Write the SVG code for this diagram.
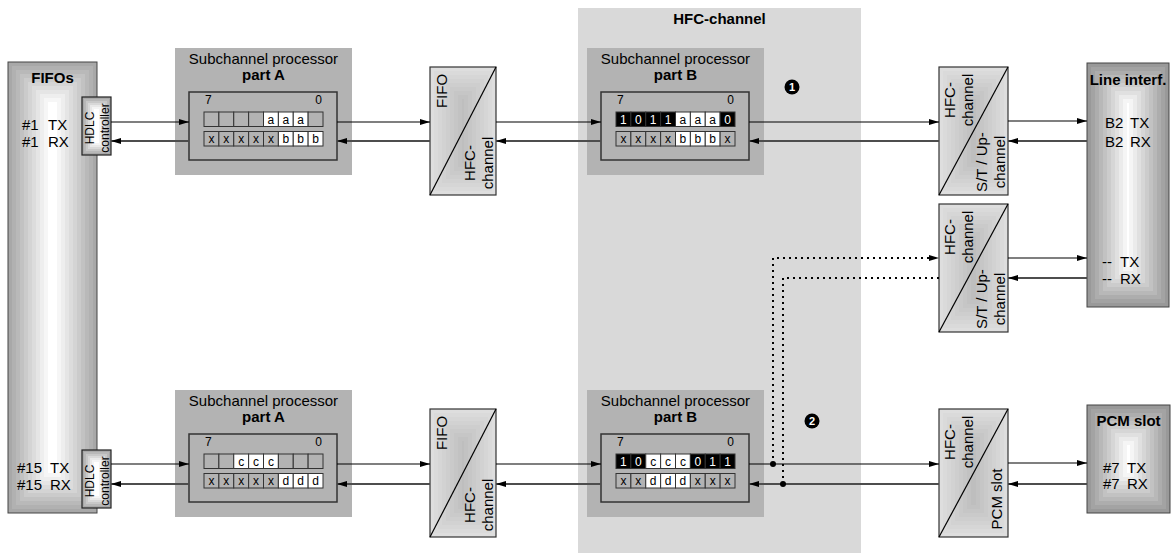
<svg xmlns="http://www.w3.org/2000/svg" width="1173" height="553" viewBox="0 0 1173 553">
<style>
text{font-family:"Liberation Sans",Arial,sans-serif;fill:#000}
.t15{font-size:15px}
.b15{font-size:15px;font-weight:bold}
.t12{font-size:12px}
.bit{font-size:12px;text-anchor:middle}
.bw{fill:#fff}
.mid{text-anchor:middle}
.end{text-anchor:end}
.gbox{fill:#b3b3b3}
.reg{fill:none;stroke:#333;stroke-width:1.5}
.cg{fill:#b3b3b3;stroke:#333;stroke-width:1}
.cw{fill:#fff;stroke:#333;stroke-width:1}
.cb{fill:#000;stroke:#333;stroke-width:1}
.edge{fill:none;stroke:#444;stroke-width:1}
.tx{fill:none;stroke:#000;stroke-width:1.2}
.rx{fill:none;stroke:#4d4d4d;stroke-width:1.8}
.dot{fill:none;stroke:#000;stroke-width:2;stroke-dasharray:2 4}
.diag{stroke:#000;stroke-width:1.2}
.num{font-size:11px;font-weight:bold;fill:#fff;text-anchor:middle}
</style>
<defs>
<marker id="ah" viewBox="0 0 10 6" refX="10" refY="3" markerWidth="10" markerHeight="6" markerUnits="userSpaceOnUse" orient="auto"><path d="M0,0 L10,3 L0,6 z" fill="#000"/></marker>
<g id="conv69">
<rect x="0" y="0" width="69" height="128" fill="#dedede"/>
<rect x="4" y="4" width="61" height="120" fill="#dadada"/>
<rect x="8" y="8" width="53" height="112" fill="#d6d6d6"/>
<rect x="12" y="12" width="45" height="104" fill="#d2d2d2"/>
<rect x="16" y="16" width="37" height="96" fill="#cecece"/>
<rect x="20" y="20" width="29" height="88" fill="#cacaca"/>
<rect x="24" y="24" width="21" height="80" fill="#c6c6c6"/>
<rect x="28" y="28" width="13" height="72" fill="#c2c2c2"/>
<rect x="32" y="32" width="5" height="64" fill="#bebebe"/>
<rect x="0" y="0" width="69" height="128" fill="none" stroke="#333" stroke-width="1.2"/>
<line class="diag" x1="0" y1="128" x2="69" y2="0"/>
</g>
<g id="conv66">
<rect x="0" y="0" width="66" height="128" fill="#dedede"/>
<rect x="4" y="4" width="58" height="120" fill="#dadada"/>
<rect x="8" y="8" width="50" height="112" fill="#d6d6d6"/>
<rect x="12" y="12" width="42" height="104" fill="#d2d2d2"/>
<rect x="16" y="16" width="34" height="96" fill="#cecece"/>
<rect x="20" y="20" width="26" height="88" fill="#cacaca"/>
<rect x="24" y="24" width="18" height="80" fill="#c6c6c6"/>
<rect x="28" y="28" width="10" height="72" fill="#c2c2c2"/>
<rect x="32" y="32" width="2" height="64" fill="#bebebe"/>
<rect x="0" y="0" width="66" height="128" fill="none" stroke="#333" stroke-width="1.2"/>
<line class="diag" x1="0" y1="128" x2="66" y2="0"/>
</g>
<g id="hdlc">
<rect x="0" y="0" width="29" height="58" fill="#a8a8a8"/>
<rect x="2" y="2" width="25" height="54" fill="#b8b8b8"/>
<rect x="4" y="4" width="21" height="50" fill="#c8c8c8"/>
<rect x="6" y="6" width="17" height="46" fill="#d8d8d8"/>
<rect x="8" y="8" width="13" height="42" fill="#e8e8e8"/>
<rect x="10" y="10" width="9" height="38" fill="#f4f4f4"/>
<rect x="12" y="12" width="5" height="34" fill="#ffffff"/>
<rect x="0" y="0" width="29" height="58" fill="none" stroke="#222" stroke-width="1.2"/>
<text class="t12 mid" transform="translate(12,31) rotate(-90)">HDLC</text>
<text class="t12 mid" transform="translate(27,31) rotate(-90)">controller</text>
</g>
</defs>

<g id="hfc-channel">
<rect x="578" y="8" width="283" height="545" fill="#d9d9d9"/>
<text class="b15 mid" x="719.5" y="24">HFC-channel</text>
</g>

<g id="fifos">
<rect x="8" y="62" width="89" height="451" fill="#a8a8a8"/>
<rect x="12" y="66" width="81" height="443" fill="#b1b1b1"/>
<rect x="16" y="70" width="73" height="435" fill="#b9b9b9"/>
<rect x="20" y="74" width="65" height="427" fill="#c2c2c2"/>
<rect x="24" y="78" width="57" height="419" fill="#cbcbcb"/>
<rect x="28" y="82" width="49" height="411" fill="#d4d4d4"/>
<rect x="32" y="86" width="41" height="403" fill="#dcdcdc"/>
<rect x="36" y="90" width="33" height="395" fill="#e5e5e5"/>
<rect x="40" y="94" width="25" height="387" fill="#eeeeee"/>
<rect x="44" y="98" width="17" height="379" fill="#f6f6f6"/>
<rect x="48" y="102" width="9" height="371" fill="#ffffff"/>
<rect class="edge" x="8" y="62" width="89" height="451"/>
<text class="b15 mid" x="52.5" y="83">FIFOs</text>
<text class="t15" x="22" y="130">#1<tspan x="48">TX</tspan></text>
<text class="t15" x="22" y="147">#1<tspan x="48">RX</tspan></text>
<text class="t15" x="17" y="473">#15<tspan x="50">TX</tspan></text>
<text class="t15" x="17" y="490">#15<tspan x="50">RX</tspan></text>
</g>

<g id="hdlc1"><use href="#hdlc" x="82" y="97"/></g>
<g id="hdlc15"><use href="#hdlc" x="82" y="450"/></g>

<g id="subA1">
<rect class="gbox" x="175" y="48" width="177" height="127"/>
<text class="t15 mid" x="263.5" y="64">Subchannel processor</text>
<text class="b15 mid" x="263.5" y="80">part A</text>
<rect class="reg" x="189" y="92" width="148" height="68"/>
<text class="t12" x="205" y="104">7</text>
<text class="t12 end" x="322" y="104">0</text>
<rect class="cg" x="204" y="112" width="14.875" height="14.5"/>
<rect class="cg" x="218.875" y="112" width="14.875" height="14.5"/>
<rect class="cg" x="233.75" y="112" width="14.875" height="14.5"/>
<rect class="cg" x="248.625" y="112" width="14.875" height="14.5"/>
<rect class="cw" x="263.5" y="112" width="14.875" height="14.5"/>
<rect class="cw" x="278.375" y="112" width="14.875" height="14.5"/>
<rect class="cw" x="293.25" y="112" width="14.875" height="14.5"/>
<rect class="cg" x="308.125" y="112" width="14.875" height="14.5"/>
<text class="bit" x="270.94" y="123.5">a</text>
<text class="bit" x="285.81" y="123.5">a</text>
<text class="bit" x="300.69" y="123.5">a</text>
<rect class="cg" x="204" y="131.5" width="14.875" height="14.5"/>
<rect class="cg" x="218.875" y="131.5" width="14.875" height="14.5"/>
<rect class="cg" x="233.75" y="131.5" width="14.875" height="14.5"/>
<rect class="cg" x="248.625" y="131.5" width="14.875" height="14.5"/>
<rect class="cg" x="263.5" y="131.5" width="14.875" height="14.5"/>
<rect class="cw" x="278.375" y="131.5" width="14.875" height="14.5"/>
<rect class="cw" x="293.25" y="131.5" width="14.875" height="14.5"/>
<rect class="cw" x="308.125" y="131.5" width="14.875" height="14.5"/>
<text class="bit" x="211.44" y="143">x</text>
<text class="bit" x="226.31" y="143">x</text>
<text class="bit" x="241.19" y="143">x</text>
<text class="bit" x="256.06" y="143">x</text>
<text class="bit" x="270.94" y="143">x</text>
<text class="bit" x="285.81" y="143">b</text>
<text class="bit" x="300.69" y="143">b</text>
<text class="bit" x="315.56" y="143">b</text>
</g>

<g id="subA15">
<rect class="gbox" x="175" y="390" width="177" height="127"/>
<text class="t15 mid" x="263.5" y="406">Subchannel processor</text>
<text class="b15 mid" x="263.5" y="422">part A</text>
<rect class="reg" x="189" y="434" width="148" height="68"/>
<text class="t12" x="205" y="446">7</text>
<text class="t12 end" x="322" y="446">0</text>
<rect class="cg" x="204" y="454" width="14.875" height="14.5"/>
<rect class="cg" x="218.875" y="454" width="14.875" height="14.5"/>
<rect class="cw" x="233.75" y="454" width="14.875" height="14.5"/>
<rect class="cw" x="248.625" y="454" width="14.875" height="14.5"/>
<rect class="cw" x="263.5" y="454" width="14.875" height="14.5"/>
<rect class="cg" x="278.375" y="454" width="14.875" height="14.5"/>
<rect class="cg" x="293.25" y="454" width="14.875" height="14.5"/>
<rect class="cg" x="308.125" y="454" width="14.875" height="14.5"/>
<text class="bit" x="241.19" y="465.5">c</text>
<text class="bit" x="256.06" y="465.5">c</text>
<text class="bit" x="270.94" y="465.5">c</text>
<rect class="cg" x="204" y="473.5" width="14.875" height="14.5"/>
<rect class="cg" x="218.875" y="473.5" width="14.875" height="14.5"/>
<rect class="cg" x="233.75" y="473.5" width="14.875" height="14.5"/>
<rect class="cg" x="248.625" y="473.5" width="14.875" height="14.5"/>
<rect class="cg" x="263.5" y="473.5" width="14.875" height="14.5"/>
<rect class="cw" x="278.375" y="473.5" width="14.875" height="14.5"/>
<rect class="cw" x="293.25" y="473.5" width="14.875" height="14.5"/>
<rect class="cw" x="308.125" y="473.5" width="14.875" height="14.5"/>
<text class="bit" x="211.44" y="485">x</text>
<text class="bit" x="226.31" y="485">x</text>
<text class="bit" x="241.19" y="485">x</text>
<text class="bit" x="256.06" y="485">x</text>
<text class="bit" x="270.94" y="485">x</text>
<text class="bit" x="285.81" y="485">d</text>
<text class="bit" x="300.69" y="485">d</text>
<text class="bit" x="315.56" y="485">d</text>
</g>

<g id="fifo-conv1">
<use href="#conv66" x="430" y="67"/>
<text class="t15 mid" transform="translate(447,91) rotate(-90)">FIFO</text>
<text class="t15 mid" transform="translate(475,163) rotate(-90)">HFC-</text>
<text class="t15 mid" transform="translate(493,163) rotate(-90)">channel</text>
</g>

<g id="fifo-conv15">
<use href="#conv66" x="430" y="409"/>
<text class="t15 mid" transform="translate(447,433) rotate(-90)">FIFO</text>
<text class="t15 mid" transform="translate(475,505) rotate(-90)">HFC-</text>
<text class="t15 mid" transform="translate(493,505) rotate(-90)">channel</text>
</g>

<g id="subB1">
<rect class="gbox" x="587" y="48" width="177" height="127"/>
<text class="t15 mid" x="675.5" y="64">Subchannel processor</text>
<text class="b15 mid" x="675.5" y="80">part B</text>
<rect class="reg" x="601" y="92" width="148" height="68"/>
<text class="t12" x="617" y="104">7</text>
<text class="t12 end" x="734" y="104">0</text>
<rect class="cb" x="616" y="112" width="14.875" height="14.5"/>
<rect class="cb" x="630.875" y="112" width="14.875" height="14.5"/>
<rect class="cb" x="645.75" y="112" width="14.875" height="14.5"/>
<rect class="cb" x="660.625" y="112" width="14.875" height="14.5"/>
<rect class="cw" x="675.5" y="112" width="14.875" height="14.5"/>
<rect class="cw" x="690.375" y="112" width="14.875" height="14.5"/>
<rect class="cw" x="705.25" y="112" width="14.875" height="14.5"/>
<rect class="cb" x="720.125" y="112" width="14.875" height="14.5"/>
<text class="bit bw" x="623.44" y="123.5">1</text>
<text class="bit bw" x="638.31" y="123.5">0</text>
<text class="bit bw" x="653.19" y="123.5">1</text>
<text class="bit bw" x="668.06" y="123.5">1</text>
<text class="bit" x="682.94" y="123.5">a</text>
<text class="bit" x="697.81" y="123.5">a</text>
<text class="bit" x="712.69" y="123.5">a</text>
<text class="bit bw" x="727.56" y="123.5">0</text>
<rect class="cg" x="616" y="131.5" width="14.875" height="14.5"/>
<rect class="cg" x="630.875" y="131.5" width="14.875" height="14.5"/>
<rect class="cg" x="645.75" y="131.5" width="14.875" height="14.5"/>
<rect class="cg" x="660.625" y="131.5" width="14.875" height="14.5"/>
<rect class="cw" x="675.5" y="131.5" width="14.875" height="14.5"/>
<rect class="cw" x="690.375" y="131.5" width="14.875" height="14.5"/>
<rect class="cw" x="705.25" y="131.5" width="14.875" height="14.5"/>
<rect class="cg" x="720.125" y="131.5" width="14.875" height="14.5"/>
<text class="bit" x="623.44" y="143">x</text>
<text class="bit" x="638.31" y="143">x</text>
<text class="bit" x="653.19" y="143">x</text>
<text class="bit" x="668.06" y="143">x</text>
<text class="bit" x="682.94" y="143">b</text>
<text class="bit" x="697.81" y="143">b</text>
<text class="bit" x="712.69" y="143">b</text>
<text class="bit" x="727.56" y="143">x</text>
</g>

<g id="subB15">
<rect class="gbox" x="587" y="390" width="177" height="127"/>
<text class="t15 mid" x="675.5" y="406">Subchannel processor</text>
<text class="b15 mid" x="675.5" y="422">part B</text>
<rect class="reg" x="601" y="434" width="148" height="68"/>
<text class="t12" x="617" y="446">7</text>
<text class="t12 end" x="734" y="446">0</text>
<rect class="cb" x="616" y="454" width="14.875" height="14.5"/>
<rect class="cb" x="630.875" y="454" width="14.875" height="14.5"/>
<rect class="cw" x="645.75" y="454" width="14.875" height="14.5"/>
<rect class="cw" x="660.625" y="454" width="14.875" height="14.5"/>
<rect class="cw" x="675.5" y="454" width="14.875" height="14.5"/>
<rect class="cb" x="690.375" y="454" width="14.875" height="14.5"/>
<rect class="cb" x="705.25" y="454" width="14.875" height="14.5"/>
<rect class="cb" x="720.125" y="454" width="14.875" height="14.5"/>
<text class="bit bw" x="623.44" y="465.5">1</text>
<text class="bit bw" x="638.31" y="465.5">0</text>
<text class="bit" x="653.19" y="465.5">c</text>
<text class="bit" x="668.06" y="465.5">c</text>
<text class="bit" x="682.94" y="465.5">c</text>
<text class="bit bw" x="697.81" y="465.5">0</text>
<text class="bit bw" x="712.69" y="465.5">1</text>
<text class="bit bw" x="727.56" y="465.5">1</text>
<rect class="cg" x="616" y="473.5" width="14.875" height="14.5"/>
<rect class="cg" x="630.875" y="473.5" width="14.875" height="14.5"/>
<rect class="cw" x="645.75" y="473.5" width="14.875" height="14.5"/>
<rect class="cw" x="660.625" y="473.5" width="14.875" height="14.5"/>
<rect class="cw" x="675.5" y="473.5" width="14.875" height="14.5"/>
<rect class="cg" x="690.375" y="473.5" width="14.875" height="14.5"/>
<rect class="cg" x="705.25" y="473.5" width="14.875" height="14.5"/>
<rect class="cg" x="720.125" y="473.5" width="14.875" height="14.5"/>
<text class="bit" x="623.44" y="485">x</text>
<text class="bit" x="638.31" y="485">x</text>
<text class="bit" x="653.19" y="485">d</text>
<text class="bit" x="668.06" y="485">d</text>
<text class="bit" x="682.94" y="485">d</text>
<text class="bit" x="697.81" y="485">x</text>
<text class="bit" x="712.69" y="485">x</text>
<text class="bit" x="727.56" y="485">x</text>
</g>

<g id="marker1">
<circle cx="792" cy="87" r="7.5" fill="#000"/>
<text class="num" x="792" y="91">1</text>
</g>
<g id="marker2">
<circle cx="812" cy="421" r="7.5" fill="#000"/>
<text class="num" x="812" y="425">2</text>
</g>

<g id="conv-st1">
<use href="#conv69" x="939" y="67"/>
<text class="t15 mid" transform="translate(955,100) rotate(-90)">HFC-</text>
<text class="t15 mid" transform="translate(973,100) rotate(-90)">channel</text>
<text class="t15 mid" transform="translate(987,162) rotate(-90)">S/T / Up-</text>
<text class="t15 mid" transform="translate(1005,162) rotate(-90)">channel</text>
</g>

<g id="conv-st2">
<use href="#conv69" x="939" y="204"/>
<text class="t15 mid" transform="translate(955,237) rotate(-90)">HFC-</text>
<text class="t15 mid" transform="translate(973,237) rotate(-90)">channel</text>
<text class="t15 mid" transform="translate(987,299) rotate(-90)">S/T / Up-</text>
<text class="t15 mid" transform="translate(1005,299) rotate(-90)">channel</text>
</g>

<g id="conv-pcm">
<use href="#conv69" x="939" y="409"/>
<text class="t15 mid" transform="translate(955,442) rotate(-90)">HFC-</text>
<text class="t15 mid" transform="translate(973,442) rotate(-90)">channel</text>
<text class="t15 mid" transform="translate(1002,499) rotate(-90)">PCM slot</text>
</g>

<g id="line-interf">
<rect x="1087" y="63" width="82" height="244" fill="#999999"/>
<rect x="1091" y="67" width="74" height="236" fill="#a3a3a3"/>
<rect x="1095" y="71" width="66" height="228" fill="#adadad"/>
<rect x="1099" y="75" width="58" height="220" fill="#b8b8b8"/>
<rect x="1103" y="79" width="50" height="212" fill="#c2c2c2"/>
<rect x="1107" y="83" width="42" height="204" fill="#cccccc"/>
<rect x="1111" y="87" width="34" height="196" fill="#d6d6d6"/>
<rect x="1115" y="91" width="26" height="188" fill="#e0e0e0"/>
<rect x="1119" y="95" width="18" height="180" fill="#ebebeb"/>
<rect x="1123" y="99" width="10" height="172" fill="#f5f5f5"/>
<rect x="1127" y="103" width="2" height="164" fill="#ffffff"/>
<rect class="edge" x="1087" y="63" width="82" height="244"/>
<text class="b15 mid" x="1128" y="85">Line interf.</text>
<text class="t15" x="1105" y="128">B2<tspan x="1130">TX</tspan></text>
<text class="t15" x="1105" y="147">B2<tspan x="1130">RX</tspan></text>
<text class="t15" x="1102" y="267">--<tspan x="1120">TX</tspan></text>
<text class="t15" x="1102" y="284">--<tspan x="1120">RX</tspan></text>
</g>

<g id="pcm-slot">
<rect x="1087" y="405" width="83" height="108" fill="#999999"/>
<rect x="1091" y="409" width="75" height="100" fill="#a3a3a3"/>
<rect x="1095" y="413" width="67" height="92" fill="#adadad"/>
<rect x="1099" y="417" width="59" height="84" fill="#b8b8b8"/>
<rect x="1103" y="421" width="51" height="76" fill="#c2c2c2"/>
<rect x="1107" y="425" width="43" height="68" fill="#cccccc"/>
<rect x="1111" y="429" width="35" height="60" fill="#d6d6d6"/>
<rect x="1115" y="433" width="27" height="52" fill="#e0e0e0"/>
<rect x="1119" y="437" width="19" height="44" fill="#ebebeb"/>
<rect x="1123" y="441" width="11" height="36" fill="#f5f5f5"/>
<rect x="1127" y="445" width="3" height="28" fill="#ffffff"/>
<rect class="edge" x="1087" y="405" width="83" height="108"/>
<text class="b15 mid" x="1128.5" y="426">PCM slot</text>
<text class="t15" x="1103" y="473">#7<tspan x="1127">TX</tspan></text>
<text class="t15" x="1103" y="489">#7<tspan x="1127">RX</tspan></text>
</g>

<g id="connectors">
<path class="tx" d="M111,122 H189" marker-end="url(#ah)"/>
<path class="rx" d="M189,141 H111" marker-end="url(#ah)"/>
<path class="tx" d="M337,122 H430" marker-end="url(#ah)"/>
<path class="rx" d="M430,141 H337" marker-end="url(#ah)"/>
<path class="tx" d="M496,122 H601" marker-end="url(#ah)"/>
<path class="rx" d="M601,141 H496" marker-end="url(#ah)"/>
<path class="tx" d="M749,122 H939" marker-end="url(#ah)"/>
<path class="rx" d="M939,141 H749" marker-end="url(#ah)"/>
<path class="tx" d="M1008,121 H1087" marker-end="url(#ah)"/>
<path class="rx" d="M1087,141 H1008" marker-end="url(#ah)"/>
<path class="dot" d="M773,464 V258 H939" marker-end="url(#ah)"/>
<path class="dot" d="M939,278 H783 V484"/>
<path class="tx" d="M1008,258 H1087" marker-end="url(#ah)"/>
<path class="rx" d="M1087,278 H1008" marker-end="url(#ah)"/>
<path class="tx" d="M111,464 H189" marker-end="url(#ah)"/>
<path class="rx" d="M189,484 H111" marker-end="url(#ah)"/>
<path class="tx" d="M337,464 H430" marker-end="url(#ah)"/>
<path class="rx" d="M430,484 H337" marker-end="url(#ah)"/>
<path class="tx" d="M496,464 H601" marker-end="url(#ah)"/>
<path class="rx" d="M601,484 H496" marker-end="url(#ah)"/>
<path class="tx" d="M749,464 H939" marker-end="url(#ah)"/>
<path class="rx" d="M939,484 H749" marker-end="url(#ah)"/>
<path class="tx" d="M1008,463 H1087" marker-end="url(#ah)"/>
<path class="rx" d="M1087,484 H1008" marker-end="url(#ah)"/>
<circle cx="773" cy="464" r="3" fill="#000"/>
<circle cx="783" cy="484" r="3" fill="#000"/>
</g>
</svg>
